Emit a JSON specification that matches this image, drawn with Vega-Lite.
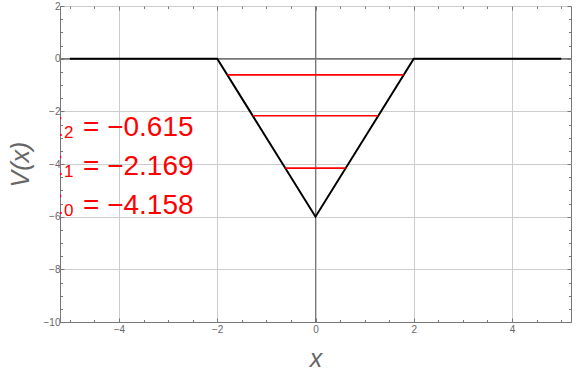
{
  "$schema": "https://vega.github.io/schema/vega-lite/v6.json",
  "width": 511,
  "height": 316,
  "autosize": {"type": "none"},
  "padding": {"left": 60, "top": 6, "right": 5, "bottom": 53},
  "config": {
    "font": "Liberation Sans",
    "view": {"stroke": "#777", "strokeWidth": 1},
    "axis": {
      "labelColor": "#666",
      "labelFontSize": 10,
      "labelFont": "Liberation Sans",
      "domainColor": "#777",
      "tickColor": "#777",
      "gridColor": "#cccccc",
      "gridWidth": 1,
      "titleFont": "Liberation Sans",
      "titleColor": "#666",
      "titleFontSize": 25,
      "titleFontWeight": "normal",
      "titleFontStyle": "italic"
    }
  },
  "datasets": {
    "potential": [
      {"x": -5, "v": 0},
      {"x": -2, "v": 0},
      {"x": 0, "v": -6},
      {"x": 2, "v": 0},
      {"x": 5, "v": 0}
    ],
    "levels": [
      {"n": "0", "e": -4.158, "xl": -0.614, "xr": 0.614, "ly": -5.9, "label": "= −4.158"},
      {"n": "1", "e": -2.169, "xl": -1.277, "xr": 1.277, "ly": -4.42, "label": "= −2.169"},
      {"n": "2", "e": -0.615, "xl": -1.795, "xr": 1.795, "ly": -2.94, "label": "= −0.615"}
    ]
  },
  "resolve": {"axis": {"x": "independent", "y": "independent"}},
  "layer": [
    {
      "data": {"name": "potential"},
      "mark": {"type": "rule", "color": "#777", "strokeWidth": 1},
      "encoding": {
        "x": {
          "datum": 0, "type": "quantitative",
          "scale": {"domain": [-5.2, 5.2], "nice": false, "zero": false},
          "axis": {"orient": "bottom", "values": [-4, -2, 0, 2, 4], "grid": true, "tickSize": -4, "labelPadding": 6, "title": "x", "titlePadding": 12}
        }
      }
    },
    {
      "data": {"name": "potential"},
      "mark": {"type": "rule", "color": "#777", "strokeWidth": 1},
      "encoding": {
        "y": {
          "datum": 0, "type": "quantitative",
          "scale": {"domain": [-10, 2], "nice": false, "zero": false},
          "axis": {"orient": "left", "values": [-10, -8, -6, -4, -2, 0, 2], "grid": true, "tickSize": -4, "labelPadding": 4, "title": "V(x)", "titlePadding": 10}
        }
      }
    },
    {
      "data": {"name": "potential"},
      "mark": {"type": "line", "color": "black", "strokeWidth": 2},
      "encoding": {
        "x": {
          "field": "x", "type": "quantitative",
          "scale": {"domain": [-5.2, 5.2], "nice": false, "zero": false},
          "axis": {"orient": "bottom", "values": [-5, -4.5, -3.5, -3, -2.5, -1.5, -1, -0.5, 0.5, 1, 1.5, 2.5, 3, 3.5, 4.5, 5], "grid": false, "labels": false, "domain": false, "tickSize": -2.5, "title": null}
        },
        "y": {
          "field": "v", "type": "quantitative",
          "scale": {"domain": [-10, 2], "nice": false, "zero": false},
          "axis": {"orient": "left", "values": [-9.5, -9, -8.5, -7.5, -7, -6.5, -5.5, -5, -4.5, -3.5, -3, -2.5, -1.5, -1, -0.5, 0.5, 1, 1.5], "grid": false, "labels": false, "domain": false, "tickSize": -2.5, "title": null}
        }
      }
    },
    {
      "data": {"name": "levels"},
      "mark": {"type": "rule", "color": "#ff0000", "strokeWidth": 1.6},
      "encoding": {
        "x": {
          "field": "xl", "type": "quantitative",
          "scale": {"domain": [-5.2, 5.2], "nice": false, "zero": false},
          "axis": {"orient": "top", "values": [-4, -2, 0, 2, 4], "grid": false, "labels": false, "domain": false, "tickSize": -4, "title": null}
        },
        "x2": {"field": "xr"},
        "y": {
          "field": "e", "type": "quantitative",
          "scale": {"domain": [-10, 2], "nice": false, "zero": false},
          "axis": {"orient": "right", "values": [-10, -8, -6, -4, -2, 0, 2], "grid": false, "labels": false, "domain": false, "tickSize": -4, "title": null}
        }
      }
    },
    {
      "data": {"name": "levels"},
      "mark": {"type": "text", "color": "#ff0000", "fontSize": 28, "font": "Liberation Sans", "align": "right", "baseline": "alphabetic", "dx": 3, "clip": true},
      "encoding": {
        "text": {"value": "E"},
        "x": {
          "datum": -5.2, "type": "quantitative",
          "scale": {"domain": [-5.2, 5.2], "nice": false, "zero": false},
          "axis": {"orient": "top", "values": [-5, -4.5, -3.5, -3, -2.5, -1.5, -1, -0.5, 0.5, 1, 1.5, 2.5, 3, 3.5, 4.5, 5], "grid": false, "labels": false, "domain": false, "tickSize": -2.5, "title": null}
        },
        "y": {
          "field": "ly", "type": "quantitative",
          "scale": {"domain": [-10, 2], "nice": false, "zero": false},
          "axis": {"orient": "right", "values": [-9.5, -9, -8.5, -7.5, -7, -6.5, -5.5, -5, -4.5, -3.5, -3, -2.5, -1.5, -1, -0.5, 0.5, 1, 1.5], "grid": false, "labels": false, "domain": false, "tickSize": -2.5, "title": null}
        }
      }
    },
    {
      "data": {"name": "levels"},
      "mark": {"type": "text", "color": "#ff0000", "fontSize": 17, "font": "Liberation Sans", "align": "left", "baseline": "alphabetic", "dx": 4, "dy": 2},
      "encoding": {
        "text": {"field": "n"},
        "x": {"datum": -5.2, "type": "quantitative", "axis": null},
        "y": {"field": "ly", "type": "quantitative", "axis": null}
      }
    },
    {
      "data": {"name": "levels"},
      "mark": {"type": "text", "color": "#ff0000", "fontSize": 28, "font": "Liberation Sans", "align": "left", "baseline": "alphabetic", "dx": 23},
      "encoding": {
        "text": {"field": "label"},
        "x": {"datum": -5.2, "type": "quantitative", "axis": null},
        "y": {"field": "ly", "type": "quantitative", "axis": null}
      }
    }
  ]
}
